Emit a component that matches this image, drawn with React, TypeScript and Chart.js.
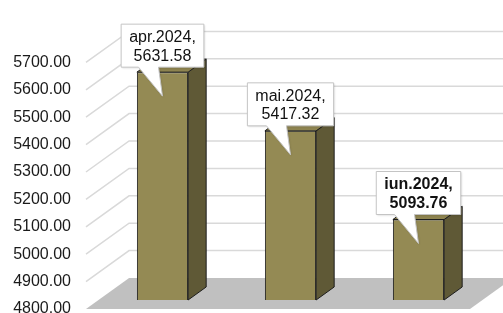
import React, { useEffect, useRef } from "react";
import { Chart, registerables } from "chart.js";

Chart.register(...registerables);

const categories = ["apr.2024", "mai.2024", "iun.2024"];
const values = [5631.58, 5417.32, 5093.76];
const boldLabel = [false, false, true];
const yMin = 4800;
const yMax = 5700;
const yStep = 100;

const FONT = "'Liberation Sans', Arial, sans-serif";
const FRONT_COLOR = "#948a54";
const SIDE_COLOR = "#5f5936";
const TOP_COLOR = "#8e8450";
const EDGE = "#1e1e1e";

// depth direction (per unit of vertical depth)
const DX = 1.39;
const FRONT_D = -9;
const BACK_D = 22;
const BAR_D = 13;

const P = (x: number, y: number, d: number): [number, number] => [x + d * DX, y - d];

const poly = (ctx: CanvasRenderingContext2D, pts: [number, number][]) => {
  ctx.beginPath();
  ctx.moveTo(pts[0][0], pts[0][1]);
  for (let i = 1; i < pts.length; i++) ctx.lineTo(pts[i][0], pts[i][1]);
  ctx.closePath();
};

const threeD = {
  id: "threeD",
  beforeDatasetsDraw(chart: any) {
    const ctx: CanvasRenderingContext2D = chart.ctx;
    const { left, right } = chart.chartArea;
    const ys = chart.scales.y;
    const y0 = ys.getPixelForValue(yMin);
    ctx.save();
    // floor
    poly(ctx, [P(left, y0, FRONT_D), P(right, y0, FRONT_D), P(right, y0, BACK_D), P(left, y0, BACK_D)]);
    ctx.fillStyle = "#c0c0c0";
    ctx.fill();
    // gridlines
    ctx.strokeStyle = "#d9d9d9";
    ctx.lineWidth = 1.5;
    ys.ticks.forEach((t: any) => {
      if (t.value <= yMin) return;
      const y = ys.getPixelForValue(t.value);
      const a = P(left, y, FRONT_D);
      const b = P(left, y, BACK_D);
      ctx.beginPath();
      ctx.moveTo(a[0], a[1]);
      ctx.lineTo(b[0], b[1]);
      ctx.lineTo(chart.width + 5, b[1]);
      ctx.stroke();
    });
    ctx.restore();
  },
  afterDatasetsDraw(chart: any) {
    const ctx: CanvasRenderingContext2D = chart.ctx;
    const meta = chart.getDatasetMeta(0);
    const base = chart.scales.y.getPixelForValue(yMin);
    ctx.save();
    ctx.lineWidth = 1;
    ctx.strokeStyle = EDGE;
    ctx.lineJoin = "round";
    meta.data.forEach((bar: any) => {
      const l = bar.x - bar.width / 2;
      const r = bar.x + bar.width / 2;
      const top = bar.y;
      poly(ctx, [[r, top], P(r, top, BAR_D), P(r, base, BAR_D), [r, base]]);
      ctx.fillStyle = SIDE_COLOR;
      ctx.fill();
      ctx.stroke();
      poly(ctx, [[l, top], P(l, top, BAR_D), P(r, top, BAR_D), [r, top]]);
      ctx.fillStyle = TOP_COLOR;
      ctx.fill();
      ctx.stroke();
    });
    // callouts
    meta.data.forEach((bar: any, i: number) => {
      const l1 = categories[i] + ",";
      const l2 = values[i].toFixed(2);
      ctx.font = (boldLabel[i] ? "bold " : "") + "16px " + FONT;
      const w = Math.max(ctx.measureText(l1).width, ctx.measureText(l2).width) + 16;
      const h = 43;
      const cx = bar.x;
      const bottom = bar.y - 5;
      const topY = bottom - h;
      const bl = cx - w / 2;
      const br = cx + w / 2;
      const tip: [number, number] = [cx, bar.y + 24];
      poly(ctx, [[bl, topY], [br, topY], [br, bottom], [cx - 4, bottom], tip, [cx - 24, bottom], [bl, bottom]]);
      ctx.fillStyle = "#ffffff";
      ctx.shadowColor = "rgba(0,0,0,0.15)";
      ctx.shadowOffsetX = 1;
      ctx.shadowOffsetY = 1;
      ctx.shadowBlur = 2;
      ctx.fill();
      ctx.shadowColor = "transparent";
      ctx.strokeStyle = "#c4c4c4";
      ctx.stroke();
      ctx.fillStyle = "#111";
      ctx.textAlign = "center";
      ctx.textBaseline = "middle";
      ctx.fillText(l1, cx, topY + 13.5);
      ctx.fillText(l2, cx, topY + 32);
    });
    ctx.restore();
  },
};

export default function App() {
  const ref = useRef<HTMLCanvasElement | null>(null);
  useEffect(() => {
    if (!ref.current) return;
    const chart = new Chart(ref.current, {
      type: "bar",
      data: {
        labels: categories,
        datasets: [
          {
            data: values,
            base: yMin,
            backgroundColor: FRONT_COLOR,
            borderColor: EDGE,
            borderWidth: 1,
            barPercentage: 0.4,
            categoryPercentage: 1,
          },
        ],
      },
      options: {
        animation: false,
        responsive: true,
        maintainAspectRatio: false,
        layout: { padding: { top: 53.4, bottom: 13, left: 0, right: 20.5 } },
        plugins: { legend: { display: false }, tooltip: { enabled: false } },
        scales: {
          x: { display: false },
          y: {
            min: yMin,
            max: yMax,
            grid: { display: false, drawTicks: false },
            border: { display: false },
            afterFit: (s: any) => {
              s.width = 98.5;
              s.paddingTop = 0;
              s.paddingBottom = 0;
            },
            ticks: {
              stepSize: yStep,
              autoSkip: false,
              padding: 27.5,
              labelOffset: 9,
              color: "#1a1a1a",
              font: { family: FONT, size: 16 },
              callback: (v: any) => Number(v).toFixed(2),
            },
          },
        },
      },
      plugins: [threeD],
    });
    return () => chart.destroy();
  }, []);
  return (
    <div style={{ position: "absolute", left: 0, top: 0, width: 503, height: 313, background: "#fff" }}>
      <canvas ref={ref} />
    </div>
  );
}
